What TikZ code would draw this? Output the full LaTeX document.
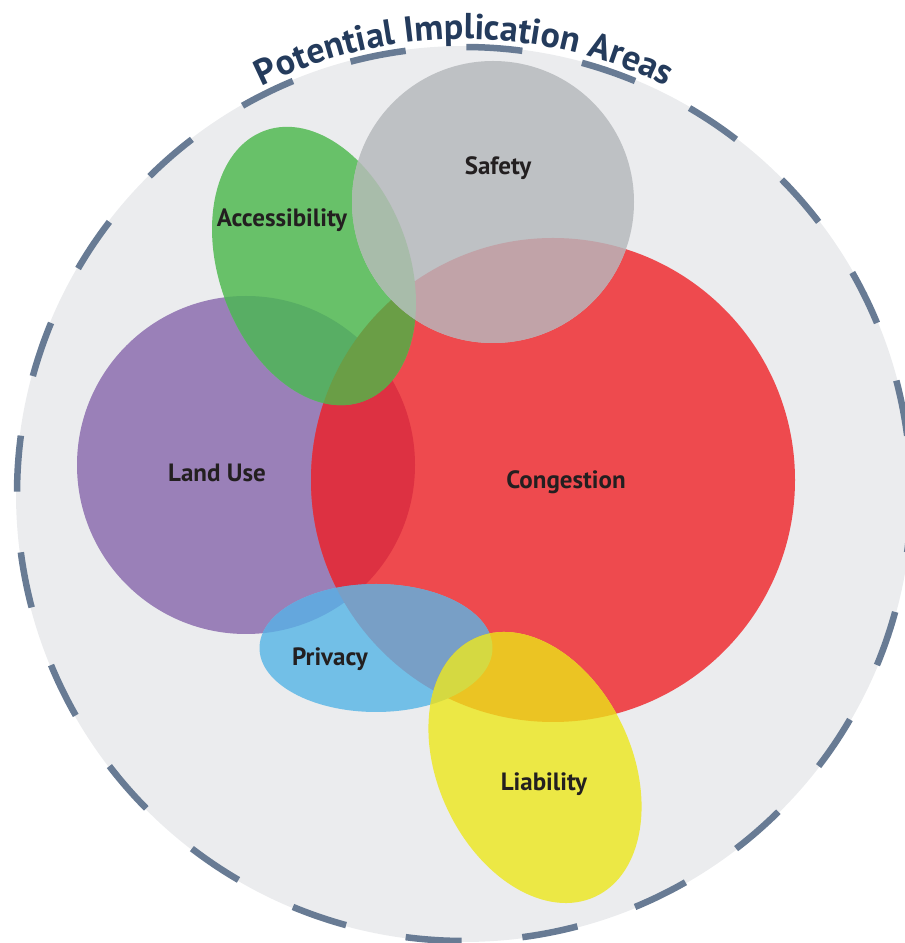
\documentclass[tikz,border=0pt]{standalone}
\usepackage{fontspec}
\setmainfont{PT Sans}
\usetikzlibrary{decorations.text}
\definecolor{bggray}{HTML}{EBECEE}
\definecolor{dashcol}{HTML}{687B94}
\definecolor{titleblue}{HTML}{243B5C}
\definecolor{txt}{HTML}{231F20}
\definecolor{cpurple}{HTML}{9A80B8}
\definecolor{cred}{HTML}{EE4A4E}
\definecolor{cgreen}{HTML}{68C169}
\definecolor{csafety}{HTML}{BEC1C4}
\definecolor{cblue}{HTML}{72BFE7}
\definecolor{cyellow}{HTML}{ECE845}
\definecolor{purred}{HTML}{DD3142}
\definecolor{grnpur}{HTML}{58AE64}
\definecolor{grnred}{HTML}{6A9E46}
\definecolor{safred}{HTML}{C1A3A8}
\definecolor{safgrn}{HTML}{A8BCAA}
\definecolor{blupur}{HTML}{64A7DD}
\definecolor{blured}{HTML}{789FC6}
\definecolor{yelred}{HTML}{EBC423}
\definecolor{yelblu}{HTML}{D5D941}
\newcommand\titlefnt{\fontsize{36}{36}\selectfont\bfseries}
\begin{document}
\begin{tikzpicture}[x=1pt,y=1pt,
  lbl/.style={font=\fontsize{25}{25}\selectfont\bfseries, text=txt, inner sep=0pt},
  dashring/.style={draw=dashcol, line width=6.5pt, line cap=butt}]
\useasboundingbox (0,0) rectangle (905,943);
\coordinate (C) at (464,449);
\def\Purple{(246,478) circle[radius=169]}
\def\Red{(553,463) circle[radius=242]}
\def\Green{(314,677) circle[x radius=95,y radius=144,rotate=20]}
\def\Safety{(493,741) circle[radius=141]}
\def\Blue{(376,295) circle[x radius=116.5,y radius=64]}
\def\Yellow{(535,175.5) circle[x radius=97,y radius=142.5,rotate=25]}
% background
\fill[bggray] (C) circle[radius=448];
\foreach \k in {0,...,23}
  \draw[dashring] ([shift={(82.5+15*\k:447)}]C) arc[start angle=82.5+15*\k, delta angle=7.2, radius=447];
% base shapes
\fill[cpurple] \Purple;
\fill[cred] \Red;
\fill[cgreen] \Green;
\fill[csafety] \Safety;
\fill[cblue] \Blue;
\fill[cyellow] \Yellow;
% overlaps
\begin{scope}\clip \Purple; \fill[purred] \Red; \end{scope}
\begin{scope}\clip \Green; \fill[grnpur] \Purple; \end{scope}
\begin{scope}\clip \Green; \fill[grnred] \Red; \end{scope}
\begin{scope}\clip \Safety; \fill[safred] \Red; \end{scope}
\begin{scope}\clip \Safety; \fill[safgrn] \Green; \end{scope}
\begin{scope}\clip \Blue; \fill[blupur] \Purple; \end{scope}
\begin{scope}\clip \Blue; \fill[blured] \Red; \end{scope}
\begin{scope}\clip \Yellow; \fill[yelred] \Red; \end{scope}
\begin{scope}\clip \Yellow; \fill[yelblu] \Blue; \end{scope}
% labels
\node[lbl] (safety) at (498,775) {Safety};
\node[lbl] (access) at (282,723) {Accessibility};
\node[lbl] (landuse) at (217,470) {Land Use};
\node[lbl] (congestion) at (566,461) {Congestion};
\node[lbl] (privacy) at (330,284) {Privacy};
\node[lbl] (liability) at (544,159) {Liability};
% title
\path[decorate, decoration={text along path, text align=center, text color=titleblue,
  text={|\titlefnt|Potential Implication Areas}}]
  ([shift={(130:455)}]C) arc[start angle=130, end angle=50, radius=455];
\end{tikzpicture}
\end{document}
